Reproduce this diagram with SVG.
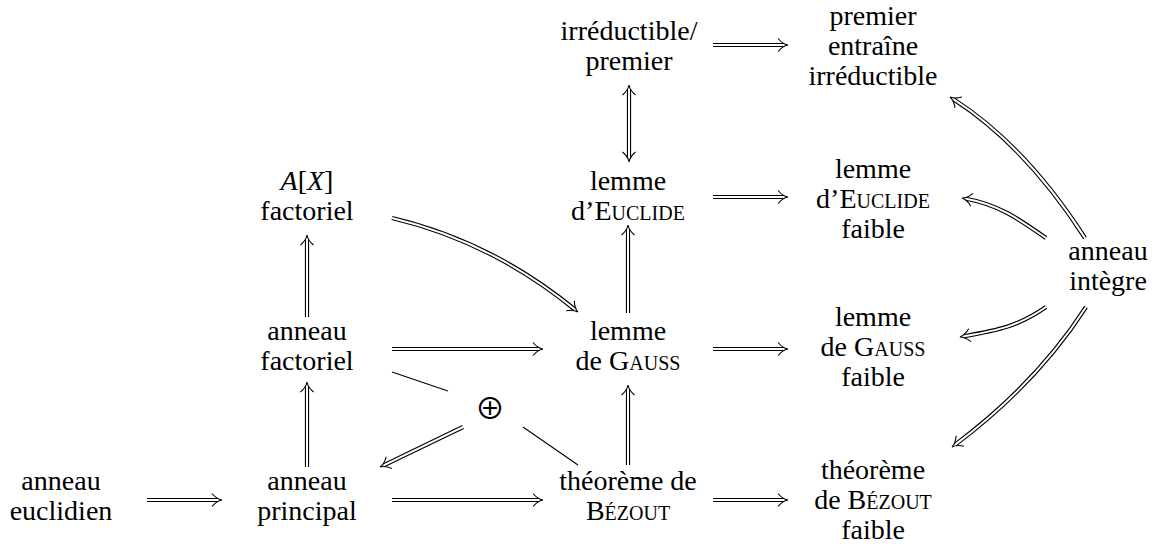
<svg xmlns="http://www.w3.org/2000/svg" width="1156" height="544" viewBox="0 0 1156 544">
  <style>
    .t { font-size: 28px; text-anchor: middle; fill: #000; }
    .sc { font-variant: small-caps; }
    .it { font-style: italic; }
    .o { fill: none; stroke: #000; stroke-width: 4.2; }
    .i { fill: none; stroke: #fff; stroke-width: 2; marker-end: url(#imp); }
    .i2 { fill: none; stroke: #fff; stroke-width: 2; marker-start: url(#imp2); marker-end: url(#imp2); }
    .ln { fill: none; stroke: #000; stroke-width: 1.1; }
    .op { font-size: 30px; text-anchor: middle; fill: #000; }
  </style>
  <defs>
    <!-- open curved head for double (implies) arrows; tip sits 4px past the shaft end -->
    <marker id="imp" markerUnits="userSpaceOnUse" viewBox="-8 -8 14 16" refX="0" refY="0" markerWidth="14" markerHeight="16" orient="auto" overflow="visible">
      <path d="M -6 -6.5 Q -1.5 -1 4 0 Q -1.5 1 -6 6.5" fill="none" stroke="#000" stroke-width="1.1"/>
    </marker>
    <marker id="imp2" markerUnits="userSpaceOnUse" viewBox="-8 -8 14 16" refX="0" refY="0" markerWidth="14" markerHeight="16" orient="auto-start-reverse" overflow="visible">
      <path d="M -6 -6.5 Q -1.5 -1 4 0 Q -1.5 1 -6 6.5" fill="none" stroke="#000" stroke-width="1.1"/>
    </marker>
  </defs>

  <rect width="1156" height="544" fill="#fff"/>

  <g id="connectors">
    <!-- outer strokes of the double lines -->
    <g class="o">
      <path d="M147 500 L218 500"/>
      <path d="M392 500 L539 500"/>
      <path d="M713 500 L784 500"/>
      <path d="M392 349 L539 349"/>
      <path d="M713 349 L784 349"/>
      <path d="M713 197 L784 197"/>
      <path d="M713 45 L784 45"/>
      <path d="M628 465 L628 389"/>
      <path d="M628 313 L628 229"/>
      <path d="M629 89 L629 158"/>
      <path d="M307 467 L307 386"/>
      <path d="M307 317 L307 239"/>
      <path d="M392 218 C460.1 234.1 520.7 265.2 574.9 309.5"/>
      <path d="M463 427 L383.6 465.3"/>
      <path d="M1085 238 C1049.9 183.4 1008 134.3 953.4 99.2"/>
      <path d="M1046 238 C1017.3 217.9 997.5 204.3 966 198.7"/>
      <path d="M1046 307 C1017.3 327.1 995.4 330.7 963.9 336.3"/>
      <path d="M1086 307 C1050.9 361.6 1007.2 405.6 955.2 444.6"/>
    </g>
    <!-- inner gaps, with heads -->
    <g>
      <path class="i" d="M147 500 L218 500"/>
      <path class="i" d="M392 500 L539 500"/>
      <path class="i" d="M713 500 L784 500"/>
      <path class="i" d="M392 349 L539 349"/>
      <path class="i" d="M713 349 L784 349"/>
      <path class="i" d="M713 197 L784 197"/>
      <path class="i" d="M713 45 L784 45"/>
      <path class="i" d="M628 465 L628 389"/>
      <path class="i" d="M628 313 L628 229"/>
      <path class="i2" d="M629 89 L629 158"/>
      <path class="i" d="M307 467 L307 386"/>
      <path class="i" d="M307 317 L307 239"/>
      <path class="i" d="M392 218 C460.1 234.1 520.7 265.2 574.9 309.5"/>
      <path class="i" d="M463 427 L383.6 465.3"/>
      <path class="i" d="M1085 238 C1049.9 183.4 1008 134.3 953.4 99.2"/>
      <path class="i" d="M1046 238 C1017.3 217.9 997.5 204.3 966 198.7"/>
      <path class="i" d="M1046 307 C1017.3 327.1 995.4 330.7 963.9 336.3"/>
      <path class="i" d="M1086 307 C1050.9 361.6 1007.2 405.6 955.2 444.6"/>
    </g>
    <!-- plain lines into the direct-sum node -->
    <path class="ln" d="M392 372 L448 391"/>
    <path class="ln" d="M523 427 L578 465"/>
  </g>

  <g id="nodes" font-family="Liberation Serif, Times New Roman, serif">
    <g id="n-euclidien">
      <text class="t" x="61" y="490">anneau</text>
      <text class="t" x="61" y="520">euclidien</text>
    </g>
    <g id="n-principal">
      <text class="t" x="307" y="490">anneau</text>
      <text class="t" x="307" y="520">principal</text>
    </g>
    <g id="n-factoriel">
      <text class="t" x="307" y="340">anneau</text>
      <text class="t" x="307" y="370">factoriel</text>
    </g>
    <g id="n-polynomes">
      <text class="t" x="307" y="190"><tspan class="it">A</tspan>[<tspan class="it">X</tspan>]</text>
      <text class="t" x="307" y="220">factoriel</text>
    </g>
    <g id="n-oplus">
      <text class="op" x="490" y="419" font-family="Noto Sans CJK SC, DejaVu Sans, sans-serif">⊕</text>
    </g>
    <g id="n-bezout">
      <text class="t" x="628" y="490">théorème de</text>
      <text class="t" x="628" y="520"><tspan class="sc">Bézout</tspan></text>
    </g>
    <g id="n-gauss">
      <text class="t" x="628" y="340">lemme</text>
      <text class="t" x="628" y="370">de <tspan class="sc">Gauss</tspan></text>
    </g>
    <g id="n-euclide">
      <text class="t" x="628" y="190">lemme</text>
      <text class="t" x="628" y="220">d’<tspan class="sc">Euclide</tspan></text>
    </g>
    <g id="n-irred">
      <text class="t" x="629" y="40">irréductible/</text>
      <text class="t" x="629" y="70">premier</text>
    </g>
    <g id="n-premier-irred">
      <text class="t" x="873" y="25">premier</text>
      <text class="t" x="873" y="55">entraîne</text>
      <text class="t" x="873" y="85">irréductible</text>
    </g>
    <g id="n-euclide-faible">
      <text class="t" x="873" y="178">lemme</text>
      <text class="t" x="873" y="208">d’<tspan class="sc">Euclide</tspan></text>
      <text class="t" x="873" y="238">faible</text>
    </g>
    <g id="n-gauss-faible">
      <text class="t" x="873" y="326">lemme</text>
      <text class="t" x="873" y="356">de <tspan class="sc">Gauss</tspan></text>
      <text class="t" x="873" y="386">faible</text>
    </g>
    <g id="n-bezout-faible">
      <text class="t" x="873" y="479">théorème</text>
      <text class="t" x="873" y="509">de <tspan class="sc">Bézout</tspan></text>
      <text class="t" x="873" y="539">faible</text>
    </g>
    <g id="n-integre">
      <text class="t" x="1108" y="260">anneau</text>
      <text class="t" x="1108" y="290">intègre</text>
    </g>
  </g>
</svg>
